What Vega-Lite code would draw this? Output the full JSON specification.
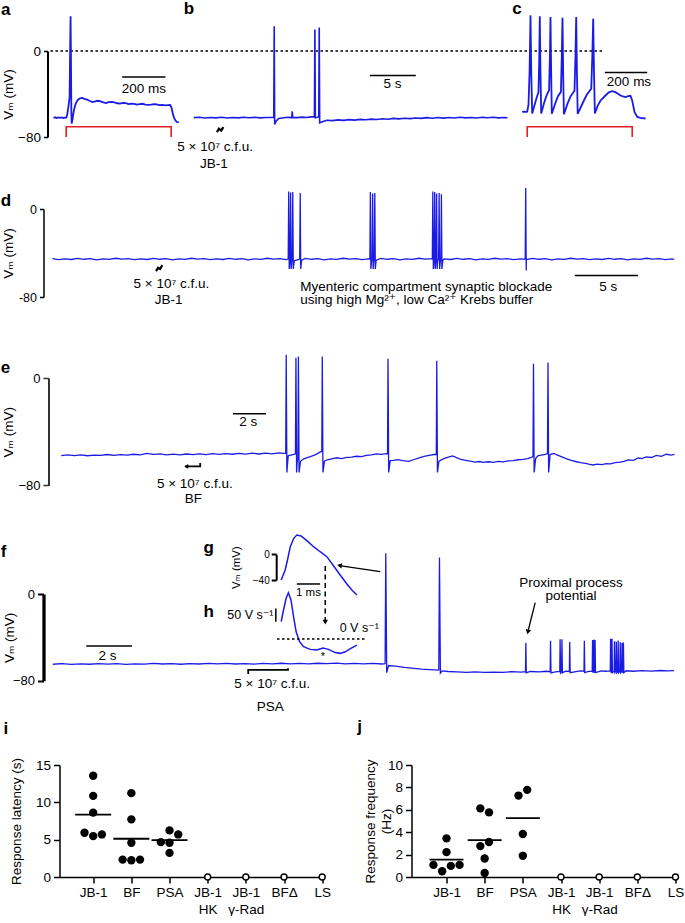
{
"$schema":"https://vega.github.io/schema/vega-lite/v6.json",
"background":"white",
"padding":{"left":0.5,"top":0,"right":0,"bottom":0},
"spacing":0,
"bounds":"flush",
"config":{
 "view":{"stroke":null},
 "font":"Liberation Sans, DejaVu Sans",
 "axis":{"labelFont":"Liberation Sans, DejaVu Sans","titleFont":"Liberation Sans, DejaVu Sans","labelColor":"black","titleColor":"black","domainColor":"black","tickColor":"black","titleFontWeight":"normal","grid":false},
 "text":{"font":"Liberation Sans, DejaVu Sans","fontSize":13.5,"color":"black"},
 "title":{"font":"Liberation Sans, DejaVu Sans"}
},
"datasets":{
 "ta":[{"t":27.7,"v":-62.2},{"t":35,"v":-61.7},{"t":42,"v":-62.3},{"t":50,"v":-61.8},{"t":58,"v":-62.2},{"t":66,"v":-61.7},{"t":74,"v":-62.3},{"t":82,"v":-61.9},{"t":87,"v":-62.0},{"t":92,"v":-58},{"t":97,"v":-51},{"t":102,"v":-43},{"t":105,"v":10},{"t":106.5,"v":32.3},{"t":108,"v":0},{"t":110,"v":-55},{"t":111.5,"v":-67.5},{"t":116,"v":-63},{"t":122,"v":-55},{"t":130,"v":-49},{"t":140,"v":-45.5},{"t":150,"v":-44},{"t":160,"v":-43.7},{"t":170,"v":-44.6},{"t":183,"v":-45.2},{"t":196,"v":-46.5},{"t":208,"v":-47.5},{"t":220,"v":-46.8},{"t":233,"v":-46.3},{"t":245,"v":-46.9},{"t":258,"v":-47.8},{"t":270,"v":-48.4},{"t":283,"v":-47.6},{"t":296,"v":-47.3},{"t":309,"v":-47.9},{"t":322,"v":-48.6},{"t":335,"v":-48.9},{"t":348,"v":-48.2},{"t":361,"v":-48.5},{"t":374,"v":-49.4},{"t":387,"v":-48.9},{"t":400,"v":-49.2},{"t":413,"v":-49.9},{"t":426,"v":-49.5},{"t":439,"v":-49.1},{"t":452,"v":-49.8},{"t":465,"v":-50.2},{"t":478,"v":-49.9},{"t":491,"v":-49.4},{"t":504,"v":-49.7},{"t":517,"v":-50.4},{"t":530,"v":-50.1},{"t":543,"v":-50.6},{"t":556,"v":-50.3},{"t":566,"v":-50.2},{"t":572,"v":-52.5},{"t":577,"v":-57},{"t":583,"v":-61.5},{"t":590,"v":-64.5},{"t":597,"v":-66},{"t":606,"v":-66.4}],
 "tb":[{"t":0.9,"v":-62.0},{"t":1.5,"v":-61.6},{"t":2.1,"v":-62.3},{"t":2.7,"v":-61.8},{"t":3.3,"v":-62.2},{"t":3.9,"v":-61.7},{"t":4.5,"v":-62.3},{"t":5.1,"v":-61.9},{"t":5.7,"v":-62.2},{"t":6.3,"v":-61.6},{"t":6.9,"v":-62.1},{"t":7.5,"v":-61.7},{"t":8.1,"v":-62.2},{"t":8.7,"v":-61.8},{"t":9.3,"v":-61.9},{"t":9.55,"v":-61.6},{"t":9.6,"v":23.0},{"t":9.65,"v":-68.2},{"t":9.8,"v":-65.2},{"t":10.1,"v":-62.8},{"t":10.6,"v":-62.1},{"t":11.1,"v":-61.7},{"t":11.5,"v":-61.9},{"t":11.55,"v":-56.0},{"t":11.6,"v":-61.8},{"t":12.1,"v":-62.0},{"t":12.6,"v":-61.5},{"t":13.1,"v":-61.9},{"t":13.6,"v":-61.3},{"t":13.95,"v":-61.1},{"t":14.0,"v":19.9},{"t":14.05,"v":-62.0},{"t":14.25,"v":-61.6},{"t":14.42,"v":-61.2},{"t":14.47,"v":21.8},{"t":14.52,"v":-66.8},{"t":14.8,"v":-65.8},{"t":15.3,"v":-64.4},{"t":15.9,"v":-64.8},{"t":16.5,"v":-64.1},{"t":17.1,"v":-64.5},{"t":17.7,"v":-63.8},{"t":18.3,"v":-64.3},{"t":18.9,"v":-63.6},{"t":19.5,"v":-64.0},{"t":20.1,"v":-63.4},{"t":20.7,"v":-63.7},{"t":21.3,"v":-63.0},{"t":21.9,"v":-63.5},{"t":22.5,"v":-62.7},{"t":23.1,"v":-63.1},{"t":23.7,"v":-62.5},{"t":24.3,"v":-62.9},{"t":24.9,"v":-62.3},{"t":25.5,"v":-62.7},{"t":26.1,"v":-62.0},{"t":26.7,"v":-62.5},{"t":27.3,"v":-61.8},{"t":27.9,"v":-62.4},{"t":28.5,"v":-61.9},{"t":29.1,"v":-62.3},{"t":29.7,"v":-61.7},{"t":30.3,"v":-62.2},{"t":30.9,"v":-61.8},{"t":31.5,"v":-62.3},{"t":32.1,"v":-61.7},{"t":32.7,"v":-62.1},{"t":33.3,"v":-61.6},{"t":33.9,"v":-62.2},{"t":34.5,"v":-61.8},{"t":34.85,"v":-62.1}],
 "tc":[{"t":36.3,"v":-56.7},{"t":45,"v":-56.4},{"t":53,"v":-56.7},{"t":60,"v":-56.4},{"t":66,"v":-50},{"t":71,"v":-20},{"t":75.5,"v":33.2},{"t":79,"v":-20},{"t":83.5,"v":-58.2},{"t":95,"v":-50},{"t":105,"v":-43},{"t":113,"v":-38.5},{"t":116.5,"v":-10},{"t":119.3,"v":32.3},{"t":122.5,"v":-20},{"t":126,"v":-58.2},{"t":140,"v":-48},{"t":152,"v":-41},{"t":163,"v":-36.5},{"t":167,"v":-5},{"t":169.8,"v":31.6},{"t":173,"v":-20},{"t":176,"v":-58.4},{"t":190,"v":-50},{"t":205,"v":-42},{"t":219,"v":-38},{"t":223,"v":-5},{"t":226.4,"v":31},{"t":229.5,"v":-20},{"t":233,"v":-58.8},{"t":250,"v":-49},{"t":265,"v":-42},{"t":283,"v":-37},{"t":287.5,"v":-5},{"t":291,"v":31.6},{"t":294.5,"v":-20},{"t":298,"v":-58.6},{"t":318,"v":-50},{"t":340,"v":-41},{"t":362,"v":-35},{"t":367,"v":-5},{"t":371.2,"v":30.1},{"t":375,"v":-20},{"t":379,"v":-58.2},{"t":392,"v":-51},{"t":406,"v":-46},{"t":429,"v":-41.4},{"t":445,"v":-38.5},{"t":461,"v":-37.4},{"t":476,"v":-38.3},{"t":490,"v":-40},{"t":500,"v":-41.4},{"t":512,"v":-42.3},{"t":524,"v":-42.8},{"t":536,"v":-42},{"t":547,"v":-41.7},{"t":555,"v":-46},{"t":566,"v":-56.7},{"t":579,"v":-61.3},{"t":594,"v":-62.2},{"t":618,"v":-62.8}],
 "td":[{"t":0.7,"v":-45.2},{"t":1.2,"v":-46.0},{"t":1.7,"v":-45.4},{"t":2.2,"v":-45.9},{"t":2.7,"v":-44.9},{"t":3.2,"v":-45.7},{"t":3.7,"v":-45.1},{"t":4.2,"v":-46.2},{"t":4.7,"v":-45.3},{"t":5.2,"v":-45.8},{"t":5.7,"v":-44.8},{"t":6.2,"v":-45.6},{"t":6.7,"v":-45.2},{"t":7.2,"v":-46.0},{"t":7.7,"v":-45.4},{"t":8.2,"v":-45.9},{"t":8.7,"v":-44.9},{"t":9.2,"v":-45.7},{"t":9.7,"v":-45.1},{"t":10.2,"v":-46.2},{"t":10.7,"v":-45.3},{"t":11.2,"v":-45.8},{"t":11.7,"v":-44.8},{"t":12.2,"v":-45.6},{"t":12.7,"v":-45.2},{"t":13.2,"v":-46.0},{"t":13.7,"v":-45.4},{"t":14.2,"v":-45.9},{"t":14.7,"v":-44.9},{"t":15.2,"v":-45.7},{"t":15.7,"v":-45.1},{"t":16.2,"v":-46.2},{"t":16.7,"v":-45.3},{"t":17.2,"v":-45.8},{"t":17.7,"v":-44.8},{"t":18.2,"v":-45.6},{"t":18.7,"v":-45.2},{"t":19.2,"v":-46.0},{"t":19.36,"v":-45.5},{"t":19.40,"v":16},{"t":19.44,"v":-54.5},{"t":19.50,"v":-47},{"t":19.51,"v":-46},{"t":19.55,"v":15},{"t":19.59,"v":-54.5},{"t":19.65,"v":-47},{"t":19.68,"v":-46},{"t":19.72,"v":15.5},{"t":19.76,"v":-54.5},{"t":19.84,"v":-47},{"t":20.2,"v":-45.9},{"t":20.27,"v":-45.5},{"t":20.31,"v":14.5},{"t":20.35,"v":-54.5},{"t":20.42,"v":-46.5},{"t":20.7,"v":-44.9},{"t":21.2,"v":-45.7},{"t":21.7,"v":-45.1},{"t":22.2,"v":-46.2},{"t":22.7,"v":-45.3},{"t":23.2,"v":-45.8},{"t":23.7,"v":-44.8},{"t":24.2,"v":-45.6},{"t":24.7,"v":-45.2},{"t":25.2,"v":-46.0},{"t":25.7,"v":-45.4},{"t":25.82,"v":-45.5},{"t":25.86,"v":15.5},{"t":25.90,"v":-54.5},{"t":25.96,"v":-47},{"t":26.00,"v":-46},{"t":26.04,"v":14},{"t":26.08,"v":-54.5},{"t":26.13,"v":-47},{"t":26.17,"v":-46},{"t":26.21,"v":14.5},{"t":26.25,"v":-54.5},{"t":26.32,"v":-46.5},{"t":26.7,"v":-44.9},{"t":27.2,"v":-45.7},{"t":27.7,"v":-45.1},{"t":28.2,"v":-46.2},{"t":28.7,"v":-45.3},{"t":29.2,"v":-45.8},{"t":29.7,"v":-44.8},{"t":30.2,"v":-45.6},{"t":30.7,"v":-45.2},{"t":30.76,"v":-45.5},{"t":30.80,"v":16},{"t":30.84,"v":-54.5},{"t":30.90,"v":-47},{"t":30.91,"v":-46},{"t":30.95,"v":15.5},{"t":30.99,"v":-54.5},{"t":31.04,"v":-47},{"t":31.06,"v":-46},{"t":31.10,"v":14},{"t":31.14,"v":-54.5},{"t":31.2,"v":-46.0},{"t":31.26,"v":-46},{"t":31.30,"v":14.5},{"t":31.34,"v":-54.5},{"t":31.40,"v":-47},{"t":31.44,"v":-46},{"t":31.48,"v":13.5},{"t":31.52,"v":-54.5},{"t":31.60,"v":-46.5},{"t":31.7,"v":-45.4},{"t":32.2,"v":-45.9},{"t":32.7,"v":-44.9},{"t":33.2,"v":-45.7},{"t":33.7,"v":-45.1},{"t":34.2,"v":-46.2},{"t":34.7,"v":-45.3},{"t":35.2,"v":-45.8},{"t":35.7,"v":-44.8},{"t":36.2,"v":-45.6},{"t":36.7,"v":-45.2},{"t":37.2,"v":-46.0},{"t":37.7,"v":-45.4},{"t":38.11,"v":-45.5},{"t":38.15,"v":19},{"t":38.19,"v":-56},{"t":38.2,"v":-45.9},{"t":38.7,"v":-44.9},{"t":39.2,"v":-45.7},{"t":39.7,"v":-45.1},{"t":40.2,"v":-46.2},{"t":40.7,"v":-45.3},{"t":41.2,"v":-45.8},{"t":41.7,"v":-44.8},{"t":42.2,"v":-45.6},{"t":42.7,"v":-45.2},{"t":43.2,"v":-46.0},{"t":43.7,"v":-45.4},{"t":44.2,"v":-45.9},{"t":44.7,"v":-44.9},{"t":45.2,"v":-45.7},{"t":45.7,"v":-45.1},{"t":46.2,"v":-46.2},{"t":46.7,"v":-45.3},{"t":47.2,"v":-45.8},{"t":47.7,"v":-44.8},{"t":48.2,"v":-45.6},{"t":48.7,"v":-45.2},{"t":49.2,"v":-46.0},{"t":49.7,"v":-45.4},{"t":49.9,"v":-45.7}],
 "te":[{"t":0.77,"v":-57.9},{"t":1.17,"v":-57.2},{"t":1.57,"v":-57.8},{"t":1.97,"v":-57.3},{"t":2.37,"v":-57.9},{"t":2.77,"v":-57.4},{"t":3.17,"v":-57.7},{"t":3.57,"v":-57.0},{"t":3.97,"v":-57.6},{"t":4.37,"v":-57.1},{"t":4.77,"v":-57.5},{"t":5.17,"v":-56.8},{"t":5.57,"v":-57.3},{"t":5.97,"v":-56.2},{"t":6.37,"v":-56.9},{"t":6.77,"v":-56.5},{"t":7.17,"v":-57.2},{"t":7.57,"v":-56.7},{"t":7.97,"v":-57.3},{"t":8.37,"v":-56.6},{"t":8.77,"v":-57.1},{"t":9.17,"v":-56.5},{"t":9.57,"v":-57.0},{"t":9.97,"v":-56.3},{"t":10.37,"v":-56.9},{"t":10.77,"v":-56.4},{"t":11.17,"v":-56.8},{"t":11.57,"v":-56.1},{"t":11.97,"v":-56.7},{"t":12.37,"v":-56.0},{"t":12.77,"v":-56.6},{"t":13.17,"v":-55.9},{"t":13.57,"v":-56.5},{"t":13.97,"v":-55.8},{"t":14.3,"v":-56.2},{"t":14.40,"v":-56},{"t":14.43,"v":17.4},{"t":14.47,"v":-70.3},{"t":14.55,"v":-58},{"t":14.7,"v":-57.5},{"t":14.9,"v":-56.8},{"t":14.99,"v":-56.5},{"t":15.02,"v":15},{"t":15.06,"v":-70.3},{"t":15.1,"v":-62},{"t":15.14,"v":-60},{"t":15.17,"v":16},{"t":15.21,"v":-70.3},{"t":15.3,"v":-62},{"t":15.47,"v":-60.4},{"t":15.7,"v":-59.3},{"t":15.9,"v":-58.5},{"t":16.1,"v":-57.6},{"t":16.3,"v":-56.5},{"t":16.5,"v":-55.0},{"t":16.59,"v":-54.7},{"t":16.62,"v":16},{"t":16.66,"v":-70.3},{"t":16.75,"v":-62},{"t":16.93,"v":-60.9},{"t":17.2,"v":-60.2},{"t":17.5,"v":-59.4},{"t":17.8,"v":-60.0},{"t":18.1,"v":-59.2},{"t":18.4,"v":-58.9},{"t":18.7,"v":-58.3},{"t":19.0,"v":-58.6},{"t":19.3,"v":-57.6},{"t":19.6,"v":-57.2},{"t":19.9,"v":-56.5},{"t":20.2,"v":-56.9},{"t":20.5,"v":-56.4},{"t":20.58,"v":-56.6},{"t":20.61,"v":14.4},{"t":20.65,"v":-70.3},{"t":20.74,"v":-61.5},{"t":20.93,"v":-61.4},{"t":21.2,"v":-60.8},{"t":21.5,"v":-61.6},{"t":21.87,"v":-62.1},{"t":22.2,"v":-60.7},{"t":22.5,"v":-59.5},{"t":22.8,"v":-58.4},{"t":23.1,"v":-57.6},{"t":23.4,"v":-57.0},{"t":23.54,"v":-57},{"t":23.57,"v":12.9},{"t":23.61,"v":-70.3},{"t":23.7,"v":-62},{"t":24.0,"v":-60.1},{"t":24.27,"v":-59.0},{"t":24.53,"v":-58.1},{"t":24.8,"v":-59.5},{"t":25.05,"v":-60.7},{"t":25.33,"v":-61.4},{"t":25.6,"v":-62.0},{"t":25.9,"v":-62.6},{"t":26.15,"v":-62.2},{"t":26.4,"v":-62.9},{"t":26.7,"v":-62.4},{"t":27.0,"v":-62.8},{"t":27.3,"v":-62.1},{"t":27.6,"v":-62.5},{"t":27.9,"v":-61.8},{"t":28.2,"v":-61.5},{"t":28.5,"v":-60.9},{"t":28.8,"v":-60.6},{"t":29.1,"v":-60.0},{"t":29.3,"v":-59.2},{"t":29.41,"v":-58.5},{"t":29.44,"v":10.6},{"t":29.48,"v":-70.3},{"t":29.57,"v":-60},{"t":29.7,"v":-58.0},{"t":29.9,"v":-57.5},{"t":30.1,"v":-57.0},{"t":30.25,"v":-56.6},{"t":30.29,"v":-56.5},{"t":30.32,"v":11.6},{"t":30.36,"v":-70.3},{"t":30.45,"v":-57},{"t":30.67,"v":-56.2},{"t":30.9,"v":-57.4},{"t":31.2,"v":-58.9},{"t":31.5,"v":-60.5},{"t":31.74,"v":-61.4},{"t":32.0,"v":-62.2},{"t":32.3,"v":-63.1},{"t":32.6,"v":-63.6},{"t":32.8,"v":-64.2},{"t":33.07,"v":-64.8},{"t":33.3,"v":-64.1},{"t":33.6,"v":-64.5},{"t":33.86,"v":-63.8},{"t":34.1,"v":-63.9},{"t":34.4,"v":-63.0},{"t":34.7,"v":-62.7},{"t":34.93,"v":-62.1},{"t":35.2,"v":-61.0},{"t":35.5,"v":-61.4},{"t":35.8,"v":-59.6},{"t":36.0,"v":-60.1},{"t":36.3,"v":-58.7},{"t":36.6,"v":-59.2},{"t":36.9,"v":-57.6},{"t":37.2,"v":-58.3},{"t":37.5,"v":-56.8},{"t":37.8,"v":-57.4},{"t":38.0,"v":-56.9}],
 "tf":[{"t":0.41,"v":-64.8},{"t":0.81,"v":-64.3},{"t":1.21,"v":-64.9},{"t":1.61,"v":-64.4},{"t":2.01,"v":-64.8},{"t":2.41,"v":-64.2},{"t":2.81,"v":-64.7},{"t":3.21,"v":-64.3},{"t":3.61,"v":-64.9},{"t":4.01,"v":-64.4},{"t":4.41,"v":-64.7},{"t":4.81,"v":-64.1},{"t":5.21,"v":-64.6},{"t":5.61,"v":-64.2},{"t":6.01,"v":-64.8},{"t":6.41,"v":-64.3},{"t":6.81,"v":-64.6},{"t":7.21,"v":-64.0},{"t":7.61,"v":-64.5},{"t":8.01,"v":-64.1},{"t":8.41,"v":-64.6},{"t":8.81,"v":-64.2},{"t":9.21,"v":-64.7},{"t":9.61,"v":-64.1},{"t":10.01,"v":-64.5},{"t":10.41,"v":-63.9},{"t":10.81,"v":-64.4},{"t":11.21,"v":-64.0},{"t":11.61,"v":-64.5},{"t":12.01,"v":-63.9},{"t":12.41,"v":-64.3},{"t":12.81,"v":-63.8},{"t":13.21,"v":-64.4},{"t":13.61,"v":-64.0},{"t":14.01,"v":-64.5},{"t":14.41,"v":-64.1},{"t":14.81,"v":-64.6},{"t":14.95,"v":-64.3},{"t":14.98,"v":37.6},{"t":15.02,"v":-72.6},{"t":15.1,"v":-66.0},{"t":15.4,"v":-66.6},{"t":15.8,"v":-67.8},{"t":16.2,"v":-68.6},{"t":16.56,"v":-69.4},{"t":16.9,"v":-69.8},{"t":17.3,"v":-70.2},{"t":17.33,"v":33.6},{"t":17.37,"v":-73.0},{"t":17.45,"v":-71.0},{"t":17.71,"v":-71.5},{"t":18.1,"v":-71.9},{"t":18.5,"v":-72.3},{"t":18.9,"v":-71.8},{"t":19.3,"v":-72.4},{"t":19.7,"v":-72.0},{"t":20.1,"v":-72.3},{"t":20.5,"v":-71.7},{"t":20.9,"v":-72.1},{"t":21.095,"v":-71.6},{"t":21.11,"v":-44.9},{"t":21.13,"v":-72.8},{"t":21.3,"v":-71.5},{"t":21.7,"v":-71.9},{"t":22.0,"v":-71.3},{"t":22.175,"v":-71.7},{"t":22.19,"v":-43.1},{"t":22.21,"v":-72.8},{"t":22.4,"v":-71.8},{"t":22.595,"v":-71.4},{"t":22.61,"v":-41.8},{"t":22.63,"v":-72.8},{"t":22.675,"v":-71.5},{"t":22.69,"v":-41.8},{"t":22.71,"v":-72.8},{"t":22.85,"v":-71.2},{"t":23.015,"v":-71.5},{"t":23.03,"v":-44.3},{"t":23.05,"v":-72.6},{"t":23.3,"v":-71.6},{"t":23.5,"v":-71.0},{"t":23.655,"v":-71.3},{"t":23.67,"v":-43.1},{"t":23.69,"v":-72.6},{"t":23.85,"v":-71.4},{"t":24.015,"v":-71.2},{"t":24.03,"v":-42.4},{"t":24.05,"v":-72.6},{"t":24.075,"v":-71.4},{"t":24.09,"v":-42.0},{"t":24.11,"v":-72.6},{"t":24.125,"v":-71.4},{"t":24.14,"v":-42.4},{"t":24.16,"v":-72.6},{"t":24.4,"v":-70.9},{"t":24.6,"v":-71.3},{"t":24.805,"v":-71.0},{"t":24.82,"v":-41.2},{"t":24.84,"v":-72.6},{"t":24.865,"v":-71.3},{"t":24.88,"v":-41.2},{"t":24.9,"v":-72.6},{"t":24.975,"v":-71.2},{"t":24.99,"v":-43.5},{"t":25.01,"v":-72.6},{"t":25.055,"v":-71.2},{"t":25.07,"v":-44.0},{"t":25.09,"v":-72.6},{"t":25.135,"v":-71.3},{"t":25.15,"v":-43.0},{"t":25.17,"v":-72.6},{"t":25.225,"v":-71.2},{"t":25.24,"v":-44.5},{"t":25.26,"v":-72.6},{"t":25.305,"v":-71.2},{"t":25.32,"v":-45.0},{"t":25.34,"v":-72.6},{"t":25.365,"v":-71.2},{"t":25.38,"v":-44.8},{"t":25.40,"v":-72.6},{"t":25.5,"v":-70.8},{"t":25.8,"v":-71.3},{"t":26.2,"v":-70.7},{"t":26.6,"v":-71.1},{"t":27.0,"v":-70.6},{"t":27.3,"v":-71.0},{"t":27.6,"v":-70.7}],
 "tg":[{"t":0,"v":-40},{"t":0.17,"v":-24.4},{"t":0.27,"v":-8.9},{"t":0.39,"v":11.8},{"t":0.54,"v":24.9},{"t":0.67,"v":30},{"t":0.85,"v":28.5},{"t":1.1,"v":21.2},{"t":1.39,"v":11.8},{"t":1.67,"v":4},{"t":1.96,"v":-3.7},{"t":2.25,"v":-18.2},{"t":2.53,"v":-32.2},{"t":2.82,"v":-46.2},{"t":3.03,"v":-55.6},{"t":3.25,"v":-63.3}],
 "th":[{"t":0,"v":65},{"t":0.1,"v":109},{"t":0.21,"v":153},{"t":0.31,"v":174},{"t":0.42,"v":147},{"t":0.53,"v":84},{"t":0.64,"v":27},{"t":0.79,"v":-10},{"t":0.96,"v":-29},{"t":1.24,"v":-39},{"t":1.53,"v":-41},{"t":1.79,"v":-34},{"t":2.03,"v":-39},{"t":2.32,"v":-51},{"t":2.53,"v":-54},{"t":2.75,"v":-48},{"t":2.99,"v":-35},{"t":3.25,"v":-23}],
 "idots":[{"g":"JB-1","v":13.56,"c":0},{"g":"JB-1","v":10.87,"c":0},{"g":"JB-1","v":8.62,"c":0},{"g":"JB-1","v":5.93,"c":-1},{"g":"JB-1","v":5.48,"c":0},{"g":"JB-1","v":5.70,"c":1},{"g":"BF","v":11.23,"c":0},{"g":"BF","v":7.72,"c":0},{"g":"BF","v":4.58,"c":0},{"g":"BF","v":2.33,"c":-1},{"g":"BF","v":2.25,"c":0},{"g":"BF","v":2.33,"c":1},{"g":"PSA","v":6.24,"c":0},{"g":"PSA","v":5.70,"c":1},{"g":"PSA","v":4.67,"c":-1},{"g":"PSA","v":4.58,"c":0},{"g":"PSA","v":3.23,"c":0}],
 "imeans":[{"g":"JB-1","v":8.35},{"g":"BF","v":5.12},{"g":"PSA","v":4.94}],
 "jdots":[{"g":"JB-1","v":3.45,"c":0},{"g":"JB-1","v":2.22,"c":0},{"g":"JB-1","v":1.08,"c":-1.5},{"g":"JB-1","v":0.51,"c":-0.5},{"g":"JB-1","v":0.99,"c":0.5},{"g":"JB-1","v":1.08,"c":1.5},{"g":"BF","v":6.13,"c":-0.5},{"g":"BF","v":5.77,"c":0.5},{"g":"BF","v":2.76,"c":-0.5},{"g":"BF","v":3.12,"c":0.5},{"g":"BF","v":1.65,"c":0},{"g":"BF","v":0.36,"c":0},{"g":"PSA","v":7.27,"c":-0.5},{"g":"PSA","v":7.78,"c":0.5},{"g":"PSA","v":3.84,"c":0},{"g":"PSA","v":1.89,"c":0}],
 "jmeans":[{"g":"JB-1","v":1.56},{"g":"BF","v":3.30},{"g":"PSA","v":5.26}],
 "opens":[{"g":"JB-1 HK","v":0},{"g":"JB-1 γ-Rad","v":0},{"g":"BFΔ","v":0},{"g":"LS","v":0}]
},
"vconcat":[
 {"hconcat":[
  {"data":{"values":[]},"mark":"point","width":3.7,"height":86},
  {"width":138,"height":86,
   "encoding":{"x":{"field":"t","type":"quantitative","scale":{"domain":[0,637],"nice":false,"zero":false},"axis":null},
    "y":{"field":"v","type":"quantitative","scale":{"domain":[-80,0],"nice":false,"zero":false},
     "axis":{"values":[0,-80],"labelExpr":"datum.value == 0 ? '0' : '−80'","title":"Vₘ (mV)","titleFontSize":13.5,"titleBaseline":"middle","titleX":-38.7,"labelFontSize":13.5,"tickSize":4,"tickWidth":1.5,"domainWidth":2,"labelPadding":3}}},
   "layer":[
    {"data":{"values":[{"t":13.8,"t2":637,"v":0}]},"mark":{"type":"rule","strokeDash":[2.5,2.5],"strokeWidth":1.3,"color":"black"},"encoding":{"x2":{"field":"t2"}}},
    {"data":{"values":[{"i":0,"t":86.3,"v":-80},{"i":1,"t":86.3,"v":-70.4},{"i":2,"t":570.8,"v":-70.4},{"i":3,"t":570.8,"v":-80}]},"mark":{"type":"line","color":"#e31e24","strokeWidth":1.6},"encoding":{"order":{"field":"i","type":"quantitative"}}},
    {"data":{"name":"ta"},"mark":{"type":"line","color":"#1b1be6","strokeWidth":1.8}},
    {"data":{"values":[{"t":344.7,"t2":544.5,"v":-24.2}]},"mark":{"type":"rule","strokeWidth":1.5,"color":"black"},"encoding":{"x2":{"field":"t2"}}},
    {"data":{"values":[{"t":444.6,"v":-35.6,"label":"200 ms"}]},"mark":{"type":"text"},"encoding":{"text":{"field":"label"}}},
    {"data":{"values":[{"t":-214.6,"v":33.2,"label":"a"}]},"mark":{"type":"text","align":"left","baseline":"alphabetic","fontSize":17,"fontWeight":"bold"},"encoding":{"text":{"field":"label"}}}
   ]},
  {"width":329,"height":86,
   "encoding":{"x":{"field":"t","type":"quantitative","scale":{"domain":[0,35.6],"nice":false,"zero":false},"axis":null},
    "y":{"field":"v","type":"quantitative","scale":{"domain":[-80,0],"nice":false,"zero":false},"axis":null}},
   "layer":[
    {"data":{"values":[{"t":0,"t2":35.6,"v":0}]},"mark":{"type":"rule","strokeDash":[2.5,2.5],"strokeWidth":1.3,"color":"black"},"encoding":{"x2":{"field":"t2"}}},
    {"data":{"name":"tb"},"mark":{"type":"line","color":"#1b1be6","strokeWidth":1.6}},
    {"data":{"values":[{"t":19.95,"t2":24.92,"v":-22.9}]},"mark":{"type":"rule","strokeWidth":1.5,"color":"black"},"encoding":{"x2":{"field":"t2"}}},
    {"data":{"values":[{"t":22.4,"v":-31,"label":"5 s"},{"t":3.21,"v":-89.3,"label":"5 × 10⁷ c.f.u."},{"t":3.07,"v":-104.7,"label":"JB-1"}]},"mark":{"type":"text"},"encoding":{"text":{"field":"label"}}},
    {"data":{"values":[{"i":0,"t":3.40,"v":-75.5},{"i":1,"t":3.62,"v":-72.3},{"i":2,"t":3.86,"v":-74.0},{"i":3,"t":4.10,"v":-70.8}]},"mark":{"type":"line","color":"black","strokeWidth":2.2},"encoding":{"order":{"field":"i","type":"quantitative"}}},
    {"data":{"values":[{"t":-0.18,"v":34.1,"label":"b"}]},"mark":{"type":"text","align":"left","baseline":"alphabetic","fontSize":17,"fontWeight":"bold"},"encoding":{"text":{"field":"label"}}}
   ]},
  {"width":134,"height":86,
   "encoding":{"x":{"field":"t","type":"quantitative","scale":{"domain":[0,632],"nice":false,"zero":false},"axis":null},
    "y":{"field":"v","type":"quantitative","scale":{"domain":[-80,0],"nice":false,"zero":false},"axis":null}},
   "layer":[
    {"data":{"values":[{"t":0,"t2":420,"v":0}]},"mark":{"type":"rule","strokeDash":[2.5,2.5],"strokeWidth":1.3,"color":"black"},"encoding":{"x2":{"field":"t2"}}},
    {"data":{"values":[{"i":0,"t":59.9,"v":-80},{"i":1,"t":59.9,"v":-70.4},{"i":2,"t":555.2,"v":-70.4},{"i":3,"t":555.2,"v":-80}]},"mark":{"type":"line","color":"#e31e24","strokeWidth":1.6},"encoding":{"order":{"field":"i","type":"quantitative"}}},
    {"data":{"name":"tc"},"mark":{"type":"line","color":"#1b1be6","strokeWidth":1.8}},
    {"data":{"values":[{"t":426,"t2":626,"v":-20.1}]},"mark":{"type":"rule","strokeWidth":1.5,"color":"black"},"encoding":{"x2":{"field":"t2"}}},
    {"data":{"values":[{"t":540,"v":-28.5,"label":"200 ms"}]},"mark":{"type":"text"},"encoding":{"text":{"field":"label"}}},
    {"data":{"values":[{"t":-10.8,"v":34.1,"label":"c"}]},"mark":{"type":"text","align":"left","baseline":"alphabetic","fontSize":17,"fontWeight":"bold"},"encoding":{"text":{"field":"label"}}}
   ]}
 ],"spacing":0,"bounds":"flush"},
 {"data":{"values":[]},"mark":"point","width":1,"height":157.8},
 {"width":632,"height":88,
  "encoding":{"x":{"field":"t","type":"quantitative","scale":{"domain":[0,50],"nice":false,"zero":false},"axis":null},
   "y":{"field":"v","type":"quantitative","scale":{"domain":[-80,0],"nice":false,"zero":false},
    "axis":{"values":[0,-80],"labelExpr":"datum.value == 0 ? '0' : '-80'","title":"Vₘ (mV)","titleFontSize":13.5,"titleBaseline":"middle","titleX":-35,"labelFontSize":12.5,"tickSize":4,"tickWidth":1.5,"domainWidth":1.5,"labelPadding":3}}},
  "layer":[
   {"data":{"name":"td"},"mark":{"type":"line","color":"#1b1be6","strokeWidth":1.3}},
   {"data":{"values":[{"t":42.03,"t2":47.03,"v":-60.4}]},"mark":{"type":"rule","strokeWidth":1.5,"color":"black"},"encoding":{"x2":{"field":"t2"}}},
   {"data":{"values":[{"t":44.67,"v":-70.9,"label":"5 s"},{"t":10.12,"v":-68.2,"label":"5 × 10⁷ c.f.u."},{"t":9.89,"v":-82.5,"label":"JB-1"}]},"mark":{"type":"text"},"encoding":{"text":{"field":"label"}}},
   {"data":{"values":[{"t":20.31,"v":-70.9,"label":"Myenteric compartment synaptic blockade"},{"t":20.31,"v":-83.1,"label":"using high Mg²⁺, low Ca²⁺ Krebs buffer"}]},"mark":{"type":"text","align":"left"},"encoding":{"text":{"field":"label"}}},
   {"data":{"values":[{"i":0,"t":8.90,"v":-56.5},{"i":1,"t":9.07,"v":-53.5},{"i":2,"t":9.22,"v":-54.5},{"i":3,"t":9.40,"v":-51.0}]},"mark":{"type":"line","color":"black","strokeWidth":2.2},"encoding":{"order":{"field":"i","type":"quantitative"}}},
   {"data":{"values":[{"t":-3.39,"v":2.4,"label":"d"}]},"mark":{"type":"text","align":"left","baseline":"alphabetic","fontSize":17,"fontWeight":"bold"},"encoding":{"text":{"field":"label"}}}
  ]},
 {"data":{"values":[]},"mark":"point","width":1,"height":81},
 {"hconcat":[
  {"data":{"values":[]},"mark":"point","width":5,"height":107.4},
  {"width":626,"height":107.4,
   "encoding":{"x":{"field":"t","type":"quantitative","scale":{"domain":[0,38],"nice":false,"zero":false},"axis":null},
    "y":{"field":"v","type":"quantitative","scale":{"domain":[-80,0],"nice":false,"zero":false},
     "axis":{"values":[0,-80],"labelExpr":"datum.value == 0 ? '0' : '−80'","title":"Vₘ (mV)","titleFontSize":13.5,"titleBaseline":"middle","titleX":-39.8,"labelFontSize":13,"tickSize":5.5,"tickWidth":1.5,"domainWidth":2,"domainColor":"#333333","tickColor":"#333333","labelPadding":3}}},
   "layer":[
    {"data":{"name":"te"},"mark":{"type":"line","color":"#1b1be6","strokeWidth":1.3}},
    {"data":{"values":[{"t":11.2,"t2":13.2,"v":-26.6}]},"mark":{"type":"rule","strokeWidth":1.5,"color":"black"},"encoding":{"x2":{"field":"t2"}}},
    {"data":{"values":[{"t":12.13,"v":-33.1,"label":"2 s"},{"t":8.88,"v":-78.7,"label":"5 × 10⁷ c.f.u."},{"t":8.79,"v":-89.9,"label":"BF"}]},"mark":{"type":"text"},"encoding":{"text":{"field":"label"}}},
    {"data":{"values":[{"i":0,"t":8.30,"v":-65.85},{"i":1,"t":9.21,"v":-65.85},{"i":2,"t":9.21,"v":-63.4}]},"mark":{"type":"line","color":"black","strokeWidth":1.8},"encoding":{"order":{"field":"i","type":"quantitative"}}},
    {"data":{"values":[{"t":8.36,"v":-65.85}]},"mark":{"type":"point","shape":"triangle-left","filled":true,"color":"black","size":22,"opacity":1}},
    {"data":{"values":[{"t":-2.90,"v":3.7,"label":"e"}]},"mark":{"type":"text","align":"left","baseline":"alphabetic","fontSize":17,"fontWeight":"bold"},"encoding":{"text":{"field":"label"}}}
   ]}
 ],"spacing":0,"bounds":"flush"},
 {"data":{"values":[]},"mark":"point","width":1,"height":215.7},
 {"width":632,"height":86.7,
  "resolve":{"scale":{"x":"independent","y":"independent"}},
  "layer":[
   {"encoding":{"x":{"field":"t","type":"quantitative","scale":{"domain":[0,27.66],"nice":false,"zero":false},"axis":null},
     "y":{"field":"v","type":"quantitative","scale":{"domain":[-80,0],"nice":false,"zero":false},
      "axis":{"orient":"left","values":[0,-80],"labelExpr":"datum.value == 0 ? '0' : '−80'","title":"Vₘ (mV)","titleFontSize":13.5,"titleBaseline":"middle","titleX":-34.3,"labelFontSize":13,"tickSize":6,"tickWidth":2,"domainWidth":3.3,"labelPadding":3}}},
    "layer":[
     {"data":{"name":"tf"},"mark":{"type":"line","color":"#1b1be6","strokeWidth":1.3}},
     {"data":{"values":[{"t":1.87,"t2":3.87,"v":-48}]},"mark":{"type":"rule","strokeWidth":1.5,"color":"black"},"encoding":{"x2":{"field":"t2"}}},
     {"data":{"values":[{"t":2.8,"v":-57.2,"label":"2 s"},{"t":10.01,"v":-83,"label":"5 × 10⁷ c.f.u."},{"t":9.92,"v":-104,"label":"PSA"},{"t":23.09,"v":10.4,"label":"Proximal process"},{"t":23.09,"v":-1.8,"label":"potential"}]},"mark":{"type":"text"},"encoding":{"text":{"field":"label"}}},
     {"data":{"values":[{"i":0,"t":8.96,"v":-73.8},{"i":1,"t":8.96,"v":-70.1},{"i":2,"t":10.7,"v":-70.1},{"i":3,"t":10.7,"v":-68.6}]},"mark":{"type":"line","color":"black","strokeWidth":1.8},"encoding":{"order":{"field":"i","type":"quantitative"}}},
     {"data":{"values":[{"t":21.52,"v":-8},{"t":21.22,"v":-33}]},"mark":{"type":"line","color":"black","strokeWidth":1.3}},
     {"data":{"values":[{"t":21.2,"v":-35}]},"mark":{"type":"point","shape":"triangle-down","filled":true,"color":"black","size":30,"angle":14,"opacity":1}},
     {"data":{"values":[{"t":-1.87,"v":34.4,"label":"f"}]},"mark":{"type":"text","align":"left","baseline":"alphabetic","fontSize":17,"fontWeight":"bold"},"encoding":{"text":{"field":"label"}}}
    ]},
   {"encoding":{"x":{"field":"t","type":"quantitative","scale":{"domain":[0,3.6],"range":[237.7,321.6],"nice":false,"zero":false},"axis":null},
     "y":{"field":"v","type":"quantitative","scale":{"domain":[-40,0],"range":[-14,-39.7],"nice":false,"zero":false},
      "axis":{"orient":"left","offset":-232.7,"values":[-40,0],"labelExpr":"datum.value == 0 ? '0' : '−40'","title":"Vₘ (mV)","titleFontSize":11.5,"titleBaseline":"middle","titleX":-40.2,"labelFontSize":10,"tickSize":5,"tickWidth":2,"domainWidth":2,"labelPadding":2}}},
    "layer":[
     {"data":{"name":"tg"},"mark":{"type":"line","color":"#1b1be6","strokeWidth":1.5}},
     {"data":{"values":[{"t":0.67,"t2":1.67,"v":-46.2}]},"mark":{"type":"rule","strokeWidth":1.5,"color":"black"},"encoding":{"x2":{"field":"t2"}}},
     {"data":{"values":[{"t":1.17,"v":-59.8,"label":"1 ms"}]},"mark":{"type":"text","fontSize":11.5},"encoding":{"text":{"field":"label"}}},
     {"data":{"values":[{"t":4.25,"v":-27.1},{"t":2.5,"v":-17.5}]},"mark":{"type":"line","color":"black","strokeWidth":1.3}},
     {"data":{"values":[{"t":2.5,"v":-17.4}]},"mark":{"type":"point","shape":"triangle-left","filled":true,"color":"black","size":30,"angle":8.8,"opacity":1}},
     {"data":{"values":[{"t":1.89,"v":-18.2,"v2":-103}]},"mark":{"type":"rule","strokeWidth":1.5,"strokeDash":[5,3.5],"color":"black"},"encoding":{"y2":{"field":"v2"}}},
     {"data":{"values":[{"t":1.89,"v":-105.4}]},"mark":{"type":"point","shape":"triangle-down","filled":true,"color":"black","size":30,"opacity":1}},
     {"data":{"values":[{"t":-3.33,"v":2.5,"label":"g"}]},"mark":{"type":"text","align":"left","baseline":"alphabetic","fontSize":17,"fontWeight":"bold"},"encoding":{"text":{"field":"label"}}}
    ]},
   {"encoding":{"x":{"field":"t","type":"quantitative","scale":{"domain":[0,3.6],"range":[237.7,321.6],"nice":false,"zero":false},"axis":null},
     "y":{"field":"v","type":"quantitative","scale":{"domain":[0,50],"range":[45,31.7],"nice":false,"zero":false},"axis":null}},
    "layer":[
     {"data":{"name":"th"},"mark":{"type":"line","color":"#1b1be6","strokeWidth":1.5}},
     {"data":{"values":[{"t":-0.18,"t2":3.68,"v":0}]},"mark":{"type":"rule","strokeDash":[2.5,2.5],"strokeWidth":1.3,"color":"black"},"encoding":{"x2":{"field":"t2"}}},
     {"data":{"values":[{"t":-0.23,"v":65,"v2":115}]},"mark":{"type":"rule","strokeWidth":1.5,"color":"black"},"encoding":{"y2":{"field":"v2"}}},
     {"data":{"values":[{"t":-0.33,"v":90,"label":"50 V s⁻¹"}]},"mark":{"type":"text","align":"right","fontSize":12.5},"encoding":{"text":{"field":"label"}}},
     {"data":{"values":[{"t":3.35,"v":40,"label":"0 V s⁻¹"}]},"mark":{"type":"text","fontSize":12.5},"encoding":{"text":{"field":"label"}}},
     {"data":{"values":[{"t":1.79,"v":-66.5,"label":"*"}]},"mark":{"type":"text","fontSize":11},"encoding":{"text":{"field":"label"}}},
     {"data":{"values":[{"t":-3.33,"v":83.8,"label":"h"}]},"mark":{"type":"text","align":"left","baseline":"alphabetic","fontSize":17,"fontWeight":"bold"},"encoding":{"text":{"field":"label"}}}
    ]}
  ]},
 {"data":{"values":[]},"mark":"point","width":1,"height":83.3},
 {"hconcat":[
  {"data":{"values":[]},"mark":"point","width":16,"height":112},
  {"width":263.7,"height":112,
   "title":{"text":"i","anchor":"start","frame":"group","dx":-56,"offset":7,"fontSize":17,"fontWeight":"bold","baseline":"alphabetic"},
   "encoding":{"x":{"field":"g","type":"nominal","scale":{"type":"point","domain":["JB-1","BF","PSA","JB-1 HK","JB-1 γ-Rad","BFΔ","LS"],"padding":0.4545,"align":0.971},
     "axis":{"title":null,"labelAngle":0,"labelExpr":"split(datum.label, ' ')","labelFontSize":13.5,"tickSize":6,"tickWidth":1.5,"domainWidth":1.5,"labelPadding":2,"labelOverlap":false,"labelLineHeight":17}},
    "y":{"field":"v","type":"quantitative","scale":{"domain":[0,15],"nice":false,"zero":false},
     "axis":{"values":[0,5,10,15],"title":"Response latency (s)","titleFontSize":13.5,"titleBaseline":"middle","titleX":-43.3,"labelFontSize":13.5,"tickSize":6,"tickWidth":1.5,"domainWidth":1.5,"labelPadding":3}}},
   "layer":[
    {"data":{"name":"idots"},"mark":{"type":"point","filled":true,"size":70,"color":"black","opacity":1},"encoding":{"xOffset":{"field":"c","type":"quantitative","scale":{"domain":[-1,1],"range":[-8.7,8.7]}}}},
    {"data":{"name":"imeans"},"mark":{"type":"tick","orient":"horizontal","size":36,"thickness":1.8,"color":"black","opacity":1}},
    {"data":{"name":"opens"},"mark":{"type":"point","shape":"circle","filled":true,"fill":"white","stroke":"black","strokeWidth":1.4,"size":36,"opacity":1}}
   ]},
  {"data":{"values":[]},"mark":"point","width":88,"height":112},
  {"width":266,"height":112,
   "title":{"text":"j","anchor":"start","frame":"group","dx":-54.3,"offset":9,"fontSize":17,"fontWeight":"bold","baseline":"alphabetic"},
   "encoding":{"x":{"field":"g","type":"nominal","scale":{"type":"point","domain":["JB-1","BF","PSA","JB-1 HK","JB-1 γ-Rad","BFΔ","LS"],"padding":0.4847,"align":0.946},
     "axis":{"title":null,"labelAngle":0,"labelExpr":"split(datum.label, ' ')","labelFontSize":13.5,"tickSize":6,"tickWidth":1.5,"domainWidth":1.5,"labelPadding":2,"labelOverlap":false,"labelLineHeight":17}},
    "y":{"field":"v","type":"quantitative","scale":{"domain":[0,10],"nice":false,"zero":false},
     "axis":{"values":[0,2,4,6,8,10],"title":["Response frequency","(Hz)"],"titleFontSize":13.5,"titleBaseline":"middle","titleX":-41,"labelFontSize":13.5,"tickSize":6,"tickWidth":1.5,"domainWidth":1.5,"labelPadding":3}}},
   "layer":[
    {"data":{"name":"jdots"},"mark":{"type":"point","filled":true,"size":70,"color":"black","opacity":1},"encoding":{"xOffset":{"field":"c","type":"quantitative","scale":{"domain":[-1,1],"range":[-8.7,8.7]}}}},
    {"data":{"name":"jmeans"},"mark":{"type":"tick","orient":"horizontal","size":34,"thickness":1.8,"color":"black","opacity":1}},
    {"data":{"name":"opens"},"mark":{"type":"point","shape":"circle","filled":true,"fill":"white","stroke":"black","strokeWidth":1.4,"size":36,"opacity":1}}
   ]}
 ],"spacing":0,"bounds":"flush"}
]
}
